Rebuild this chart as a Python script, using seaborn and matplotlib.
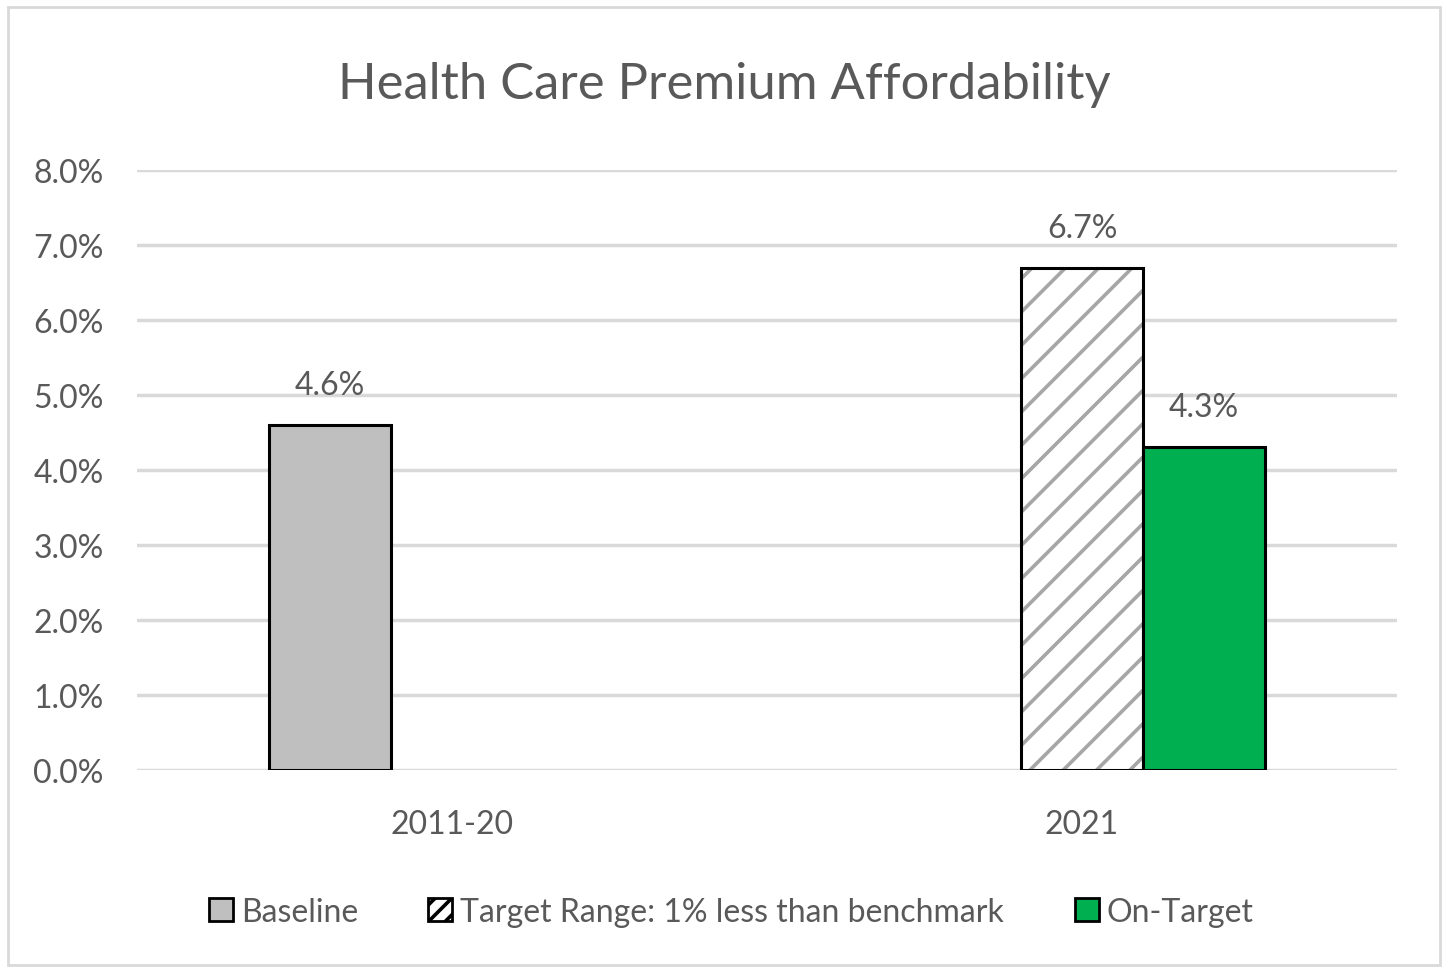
import numpy as np
import pandas as pd
import seaborn as sns
import matplotlib
matplotlib.use("Agg")
import matplotlib.pyplot as plt
from matplotlib.patches import Patch, Rectangle
from matplotlib.ticker import FuncFormatter

# Chart data
periods = ["2011-20", "2021", "2021"]
series = ["Baseline", "Target Range: 1% less than benchmark", "On-Target"]
values = [4.6, 6.7, 4.3]
series_order = ["Baseline", "Target Range: 1% less than benchmark", "On-Target"]
period_order = ["2011-20", "2021"]
series_colors = ["#bfbfbf", "#ffffff", "#00b050"]

df = pd.DataFrame({"period": periods, "series": series, "value": values})

sns.set_style("white")
plt.rcParams["font.family"] = ["Lato", "DejaVu Sans"]
plt.rcParams["hatch.linewidth"] = 2.6
txt = "#595959"
grid_c = "#d9d9d9"

fig = plt.figure(figsize=(14.48, 9.70), dpi=100)
ax = fig.add_axes([0.0946, 0.2052, 0.8702, 0.6185])

sns.barplot(data=df, x="period", y="value", hue="series", order=period_order,
            hue_order=series_order, palette=series_colors, width=0.58, gap=0,
            edgecolor="black", linewidth=2.2, saturation=1, legend=False, ax=ax)

# hatched target bar: gray stripes, black outline drawn on top
for bar in ax.containers[1]:
    if np.isnan(bar.get_height()):
        continue
    bar.set_hatch("/")
    bar.set_edgecolor("#a6a6a6")
    bar.set_linewidth(0)
    ax.add_patch(Rectangle(bar.get_xy(), bar.get_width(), bar.get_height(),
                           fill=False, edgecolor="black", linewidth=2.2, zorder=3))

for cont in ax.containers:
    labs = ["" if np.isnan(b.get_height()) else f"{b.get_height():.1f}%" for b in cont]
    ax.bar_label(cont, labels=labs, padding=18, fontsize=23, color=txt)

ax.set_ylim(0, 8)
ax.set_xlim(-0.5, 1.5)
ax.set_yticks(np.arange(0, 8.01, 1))
ax.yaxis.set_major_formatter(FuncFormatter(lambda v, p: f"{v:.1f}%"))
ax.set_xlabel("")
ax.set_ylabel("")
ax.grid(axis="y", color=grid_c, linewidth=2.5, zorder=0)
ax.set_axisbelow(True)
for s in ax.spines.values():
    s.set_visible(False)
ax.tick_params(axis="both", length=0, labelsize=23, colors=txt)
ax.tick_params(axis="y", pad=24)
ax.tick_params(axis="x", pad=28)

fig.suptitle("Health Care Premium Affordability", x=0.5, y=0.936, fontsize=36.5, color=txt)

handles = [
    Patch(facecolor=series_colors[0], edgecolor="black", linewidth=2),
    Patch(facecolor="white", edgecolor="black", linewidth=2, hatch="//"),
    Patch(facecolor=series_colors[2], edgecolor="black", linewidth=2),
]
fig.legend(handles, series_order, loc="center", bbox_to_anchor=(0.505, 0.059), ncol=3,
           frameon=False, fontsize=23, labelcolor=txt, handlelength=0.75, handleheight=0.75,
           handletextpad=0.25, columnspacing=2.2)

fig.patches.append(Rectangle((0.0055, 0.004), 0.989, 0.988, transform=fig.transFigure,
                             fill=False, edgecolor=grid_c, linewidth=2))

fig.savefig("out.png", dpi=100, facecolor="white")
